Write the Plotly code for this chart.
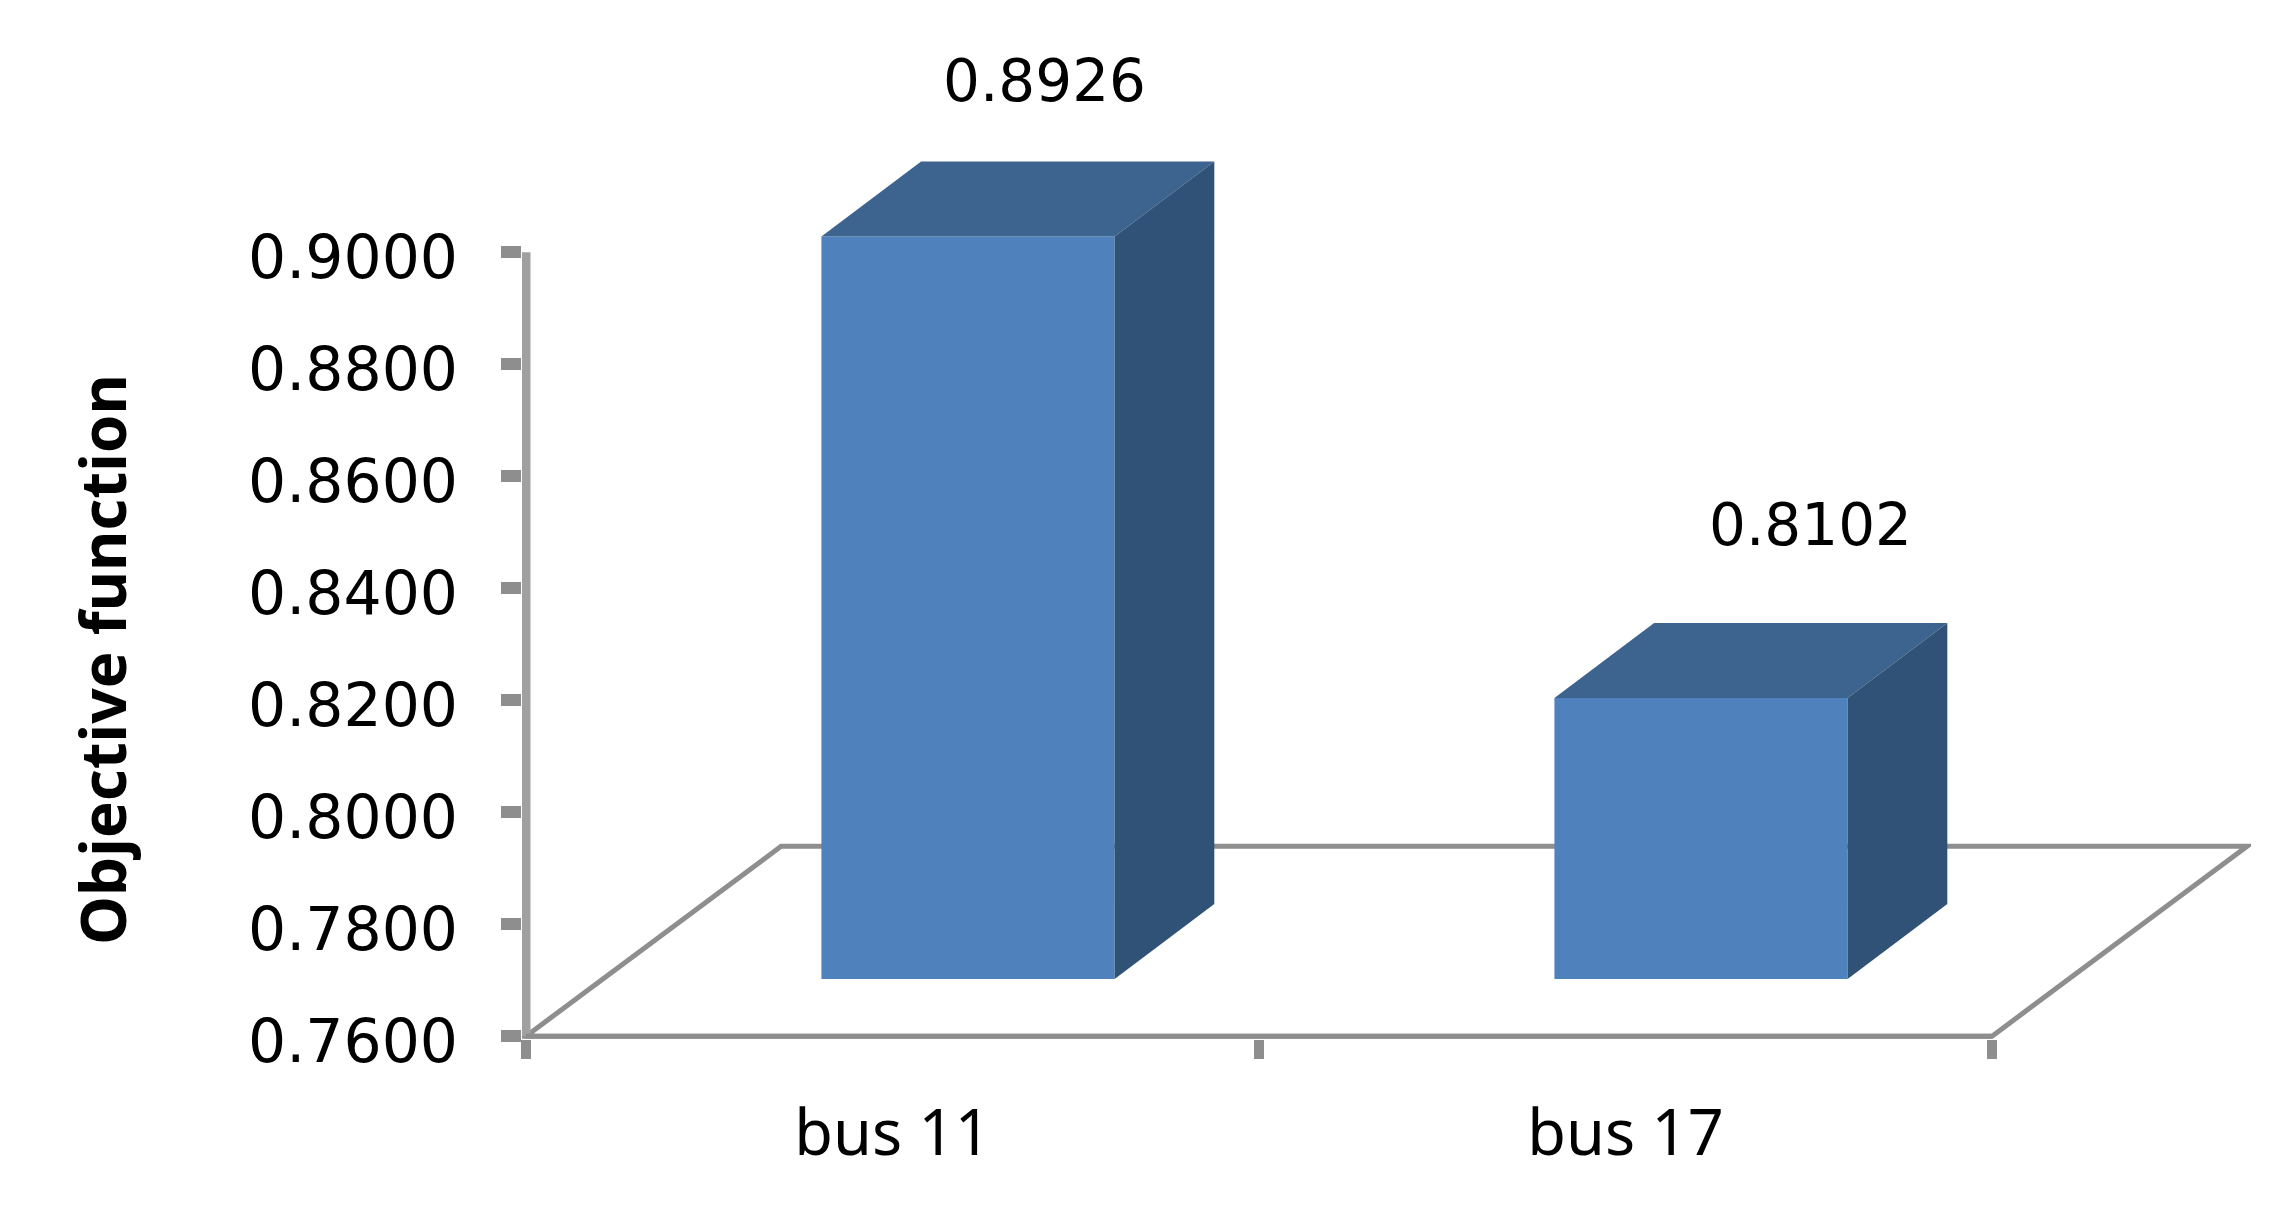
import plotly.graph_objects as go

# data
categories = ["bus 11", "bus 17"]
values = [0.8926, 0.8102]
y_ticks = [0.76, 0.78, 0.80, 0.82, 0.84, 0.86, 0.88, 0.90]
y_ticklabels = ["0.7600", "0.7800", "0.8000", "0.8200", "0.8400", "0.8600", "0.8800", "0.9000"]

# fake 3d, everything in axis units
Y_MIN = 0.76
X_RANGE = [-0.00546, 2.3533]
Y_RANGE = [0.7595, 0.94504]  # small extra below/left so the axis lines don't get clipped
FLOOR_DX = 0.348
FLOOR_DY = 0.0339
BAR_W = 0.4
BAR_DX = 0.136
BAR_DY = 0.0134
LIFT_DX = 0.103
LIFT_DY = 0.0102

FRONT = "#4F81BD"
TOP = "#3D638F"
SIDE = "#305277"
GREY = "#8E8E8E"
FONT = "DejaVu Sans"

label_dx = [0.104, 0.149]
label_dy = [0.0278, 0.0309]

fig = go.Figure()

xs = [i + 0.5 + LIFT_DX for i in range(len(categories))]
base = Y_MIN + LIFT_DY

fig.add_trace(go.Bar(
    x=xs,
    y=[v - Y_MIN for v in values],
    base=base,
    width=BAR_W,
    marker=dict(color=FRONT, line=dict(width=0)),
    showlegend=False,
))

# top and side faces of each bar
for x, v in zip(xs, values):
    left = x - BAR_W / 2
    right = x + BAR_W / 2
    top = base + v - Y_MIN
    fig.add_trace(go.Scatter(
        x=[left, left + BAR_DX, right + BAR_DX, right, left],
        y=[top, top + BAR_DY, top + BAR_DY, top, top],
        mode="lines", fill="toself", fillcolor=TOP, line=dict(width=0),
        showlegend=False, hoverinfo="skip",
    ))
    fig.add_trace(go.Scatter(
        x=[right, right + BAR_DX, right + BAR_DX, right, right],
        y=[top, top + BAR_DY, base + BAR_DY, base, top],
        mode="lines", fill="toself", fillcolor=SIDE, line=dict(width=0),
        showlegend=False, hoverinfo="skip",
    ))

# floor, sits behind the bars
n = len(categories)
fig.add_shape(
    type="path",
    path=f"M 0 {Y_MIN} L {FLOOR_DX} {Y_MIN + FLOOR_DY} L {n + FLOOR_DX} {Y_MIN + FLOOR_DY} L {n} {Y_MIN} Z",
    xref="x", yref="y", layer="below",
    line=dict(color=GREY, width=5),
)
# the two real axis lines
fig.add_shape(type="line", x0=0, x1=0, y0=Y_MIN, y1=y_ticks[-1], xref="x", yref="y",
              layer="below", line=dict(color="#A0A0A0", width=9))
fig.add_shape(type="line", x0=0, x1=n, y0=Y_MIN, y1=Y_MIN, xref="x", yref="y",
              layer="below", line=dict(color=GREY, width=5))

# value labels
for x, v, dx, dy in zip(xs, values, label_dx, label_dy):
    fig.add_annotation(
        x=x + dx, y=base + v - Y_MIN + dy, text=f"{v:.4f}", showarrow=False,
        xref="x", yref="y", xanchor="center", yanchor="middle",
        font=dict(family=FONT, size=58, color="black"),
    )

fig.add_annotation(
    text="<b>Objective function</b>", textangle=-90, showarrow=False,
    xref="paper", yref="paper", x=-0.2429, y=0.3648, xanchor="center", yanchor="middle",
    font=dict(family="Noto Sans", size=62, color="black"),
)

fig.update_layout(
    width=2292,
    height=1216,
    margin=dict(l=522, r=41, t=0, b=177, pad=0),
    paper_bgcolor="white",
    plot_bgcolor="white",
    showlegend=False,
    xaxis=dict(
        range=X_RANGE,
        tickmode="array",
        tickvals=[i + 0.5 for i in range(n)],
        ticktext=categories,
        ticks="",
        ticklabelstandoff=52,
        tickfont=dict(family="Noto Sans", size=63, color="black"),
        minor=dict(tickmode="array", tickvals=list(range(n + 1)), ticks="outside",
                   ticklen=19, tickwidth=10, tickcolor=GREY),
        showgrid=False,
        zeroline=False,
        showline=False,
    ),
    yaxis=dict(
        range=Y_RANGE,
        tickmode="array",
        tickvals=y_ticks,
        ticktext=y_ticklabels,
        ticks="outside",
        ticklen=20,
        tickwidth=12,
        tickcolor=GREY,
        ticklabelstandoff=31,
        ticklabelshift=5,
        tickfont=dict(family=FONT, size=60, color="black"),
        showgrid=False,
        zeroline=False,
        showline=False,
    ),
)

fig.write_html("out.html", config={"displayModeBar": False},
               post_script="document.body.style.margin='0';")
